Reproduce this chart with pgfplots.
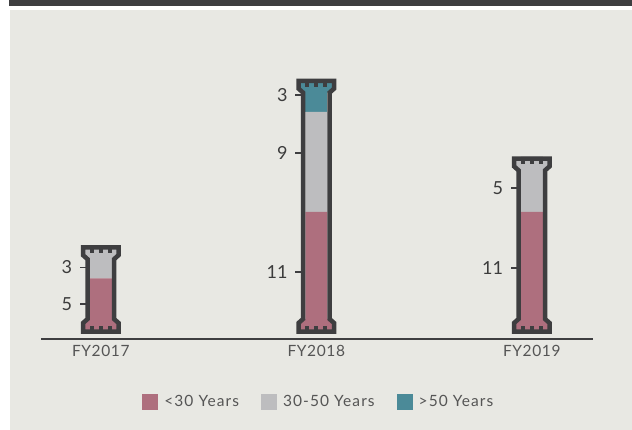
\documentclass[border=0pt]{standalone}
\usepackage{pgfplots}
\pgfplotsset{compat=1.18}
\usepackage{fontspec}
\setmainfont{Lato}
\definecolor{pinkc}{HTML}{AE6F7E}
\definecolor{grayc}{HTML}{BDBDBF}
\definecolor{tealc}{HTML}{4B8A98}
\definecolor{darkc}{HTML}{3E3E40}
\definecolor{bgc}{HTML}{E8E8E3}
\definecolor{txtc}{HTML}{3C3C3C}
\definecolor{ltxtc}{HTML}{555555}

% pillar outline and caps: #1 x, #2 total, #3 top colour, #4 bottom colour
\newcommand{\pillar}[4]{%
  \fill[#3] ([xshift=-17.75pt,yshift=-2.25pt]axis cs:#1,#2) -- ([xshift=17.75pt,yshift=-2.25pt]axis cs:#1,#2)
    -- ([xshift=17.75pt,yshift=-10pt]axis cs:#1,#2) -- ([xshift=13.25pt,yshift=-14pt]axis cs:#1,#2)
    -- ([xshift=-13.25pt,yshift=-14pt]axis cs:#1,#2) -- ([xshift=-17.75pt,yshift=-10pt]axis cs:#1,#2) -- cycle;
  \fill[#4] ([xshift=-17.75pt,yshift=2.25pt]axis cs:#1,0) -- ([xshift=17.75pt,yshift=2.25pt]axis cs:#1,0)
    -- ([xshift=17.75pt,yshift=11pt]axis cs:#1,0) -- ([xshift=13.25pt,yshift=15pt]axis cs:#1,0)
    -- ([xshift=-13.25pt,yshift=15pt]axis cs:#1,0) -- ([xshift=-17.75pt,yshift=11pt]axis cs:#1,0) -- cycle;
  \draw[darkc, line width=4.5pt, line join=miter]
    ([xshift=-17.75pt,yshift=-2.25pt]axis cs:#1,#2) -- ([xshift=17.75pt,yshift=-2.25pt]axis cs:#1,#2)
    -- ([xshift=17.75pt,yshift=-10pt]axis cs:#1,#2) -- ([xshift=13.25pt,yshift=-14pt]axis cs:#1,#2)
    -- ([xshift=13.25pt,yshift=15pt]axis cs:#1,0) -- ([xshift=17.75pt,yshift=11pt]axis cs:#1,0)
    -- ([xshift=17.75pt,yshift=2.25pt]axis cs:#1,0) -- ([xshift=-17.75pt,yshift=2.25pt]axis cs:#1,0)
    -- ([xshift=-17.75pt,yshift=11pt]axis cs:#1,0) -- ([xshift=-13.25pt,yshift=15pt]axis cs:#1,0)
    -- ([xshift=-13.25pt,yshift=-14pt]axis cs:#1,#2) -- ([xshift=-17.75pt,yshift=-10pt]axis cs:#1,#2) -- cycle;
  \fill[darkc] ([xshift=-11pt,yshift=-4pt]axis cs:#1,#2) rectangle ([xshift=-7pt,yshift=-8pt]axis cs:#1,#2);
  \fill[darkc] ([xshift=-2pt,yshift=-4pt]axis cs:#1,#2) rectangle ([xshift=2pt,yshift=-8pt]axis cs:#1,#2);
  \fill[darkc] ([xshift=7pt,yshift=-4pt]axis cs:#1,#2) rectangle ([xshift=11pt,yshift=-8pt]axis cs:#1,#2);
  \fill[darkc] ([xshift=-11pt,yshift=4pt]axis cs:#1,0) rectangle ([xshift=-7pt,yshift=8pt]axis cs:#1,0);
  \fill[darkc] ([xshift=-2pt,yshift=4pt]axis cs:#1,0) rectangle ([xshift=2pt,yshift=8pt]axis cs:#1,0);
  \fill[darkc] ([xshift=7pt,yshift=4pt]axis cs:#1,0) rectangle ([xshift=11pt,yshift=8pt]axis cs:#1,0);
}
% value label with small tick: #1 x, #2 y position, #3 text
\newcommand{\vlab}[3]{%
  \draw[darkc, line width=1.6pt] ([xshift=-14pt]axis cs:#1,#2) -- ([xshift=-21pt]axis cs:#1,#2);
  \node[anchor=east, inner sep=0pt, text=txtc, font=\fontsize{18}{21}\selectfont]
    at ([xshift=-28.5pt]axis cs:#1,#2) {#3};
}
\pgfplotsset{pillaraxis/.style={
  at={(41pt,91pt)}, anchor=south west,
  scale only axis, width=552pt, height=279pt,
  xmin=-0.2775, xmax=2.284, ymin=-0.45, ymax=24.68,
  clip=false}}

\begin{document}
\begin{tikzpicture}
\fill[white] (0pt,0pt) rectangle (632pt,430pt);
\fill[bgc] (10pt,0pt) rectangle (632pt,420pt);
\fill[darkc] (9pt,424pt) rectangle (632pt,430pt);
\begin{axis}[
  pillaraxis,
  ybar stacked, bar width=22pt,
  axis x line=bottom, axis y line=none,
  axis line style={darkc, line width=2pt, -},
  xtick={0,1,2}, xticklabels={FY2017,FY2018,FY2019},
  major tick length=0pt,
  xticklabel style={text=ltxtc, font=\fontsize{15.5}{18}\selectfont\addfontfeature{LetterSpace=4}, yshift=-3pt},
  ytick=\empty,
  legend columns=3,
  legend image code/.code={\draw[#1,draw=none] (0pt,-8pt) rectangle (16pt,8pt);},
  legend style={at={(0.507,-0.2258)}, anchor=center, draw=none, fill=none,
    font=\fontsize{15.5}{18}\selectfont\addfontfeature{LetterSpace=7}, text=ltxtc,
    /tikz/every even column/.append style={column sep=16pt},
    nodes={inner xsep=6pt}},
]
\addplot[fill=pinkc, draw=none] coordinates {(0,5) (1,11) (2,11)};
\addplot[fill=grayc, draw=none] coordinates {(0,3) (1,9) (2,5)};
\addplot[fill=tealc, draw=none] coordinates {(0,0) (1,3) (2,0)};
\legend{<30 Years, 30-50 Years, >50 Years}
\end{axis}
\begin{axis}[pillaraxis, hide axis]
\pillar{0}{8}{grayc}{pinkc}
\pillar{1}{23}{tealc}{pinkc}
\pillar{2}{16}{grayc}{pinkc}
\vlab{0}{6.0}{3}
\vlab{0}{2.7}{5}
\vlab{1}{21.5}{3}
\vlab{1}{16.3}{9}
\vlab{1}{5.6}{11}
\vlab{2}{13.15}{5}
\vlab{2}{5.95}{11}
\end{axis}
\end{tikzpicture}
\end{document}
